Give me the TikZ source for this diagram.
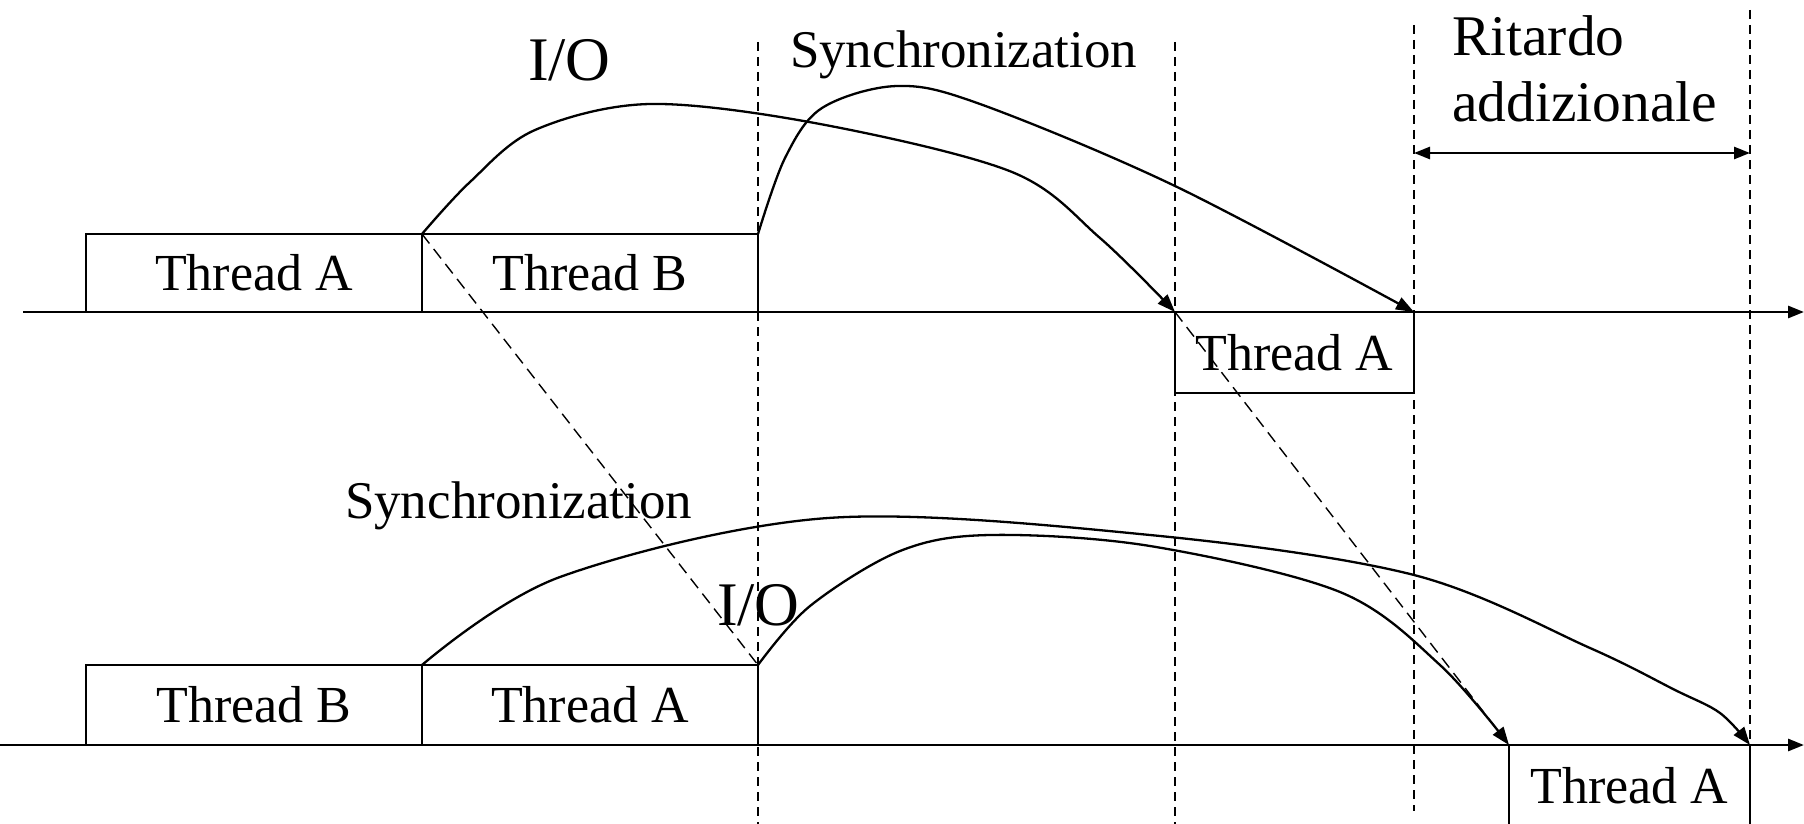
\documentclass[tikz,border=0pt]{standalone}
\usepackage{fontspec}
\setmainfont{Liberation Serif}
\usetikzlibrary{arrows.meta}
\begin{document}
\begin{tikzpicture}[x=1pt,y=-1pt,
  box/.style={draw, line width=1.7pt, minimum height=78pt, inner sep=0pt, outer sep=0pt, anchor=north west, font=\fontsize{52}{60}\selectfont},
  lbl/.style={anchor=base west, inner sep=0pt, outer sep=0pt},
  axisline/.style={line width=2.8pt, -{Triangle[length=16pt,width=12pt]}},
  guide/.style={line width=1.4pt, dash pattern=on 9pt off 6pt},
  diag/.style={line width=1.4pt, dash pattern=on 12pt off 7pt},
  flow/.style={line width=2.3pt, -{Triangle[length=18pt,width=13pt]}},
  span/.style={line width=2.6pt, {Triangle[length=16pt,width=12pt]}-{Triangle[length=16pt,width=12pt]}}]
\useasboundingbox (0,0) rectangle (1804,824);

% guide lines
\coordinate (g1t) at (758,42);   \coordinate (g1b) at (758,824);
\coordinate (g2t) at (1175,42);  \coordinate (g2b) at (1175,824);
\coordinate (g3t) at (1414,25);  \coordinate (g3b) at (1414,811);
\coordinate (g4t) at (1750,10);  \coordinate (g4b) at (1750,824);
\draw[guide] (g1t) -- (g1b);
\draw[guide] (g2t) -- (g2b);
\draw[guide] (g3t) -- (g3b);
\draw[guide] (g4t) -- (g4b);

% top row boxes
\node[box, minimum width=336pt] (tA1) at (86,234) {Thread A};
\node[box, minimum width=336pt] (tB1) at (422,234) {Thread B};
\node[box, minimum width=239pt, minimum height=81pt] (tA2) at (1175,312) {Thread A};

% bottom row boxes
\node[box, minimum width=336pt, minimum height=80pt] (bB) at (86,665) {Thread B};
\node[box, minimum width=336pt, minimum height=80pt] (bA) at (422,665) {Thread A};
\node[box, minimum width=241pt, minimum height=82pt] (bA2) at (1509,745) {Thread A};

% axes
\coordinate (ax1s) at (23,312);  \coordinate (ax1e) at (1804,312);
\coordinate (ax2s) at (0,745);   \coordinate (ax2e) at (1804,745);
\draw[axisline] (ax1s) -- (ax1e);
\draw[axisline] (ax2s) -- (ax2e);

% dashed diagonals
\draw[diag] (tA1.north east) -- (bA.north east);
\draw[diag] (tA2.north west) -- (bA2.north west);

% curves top
\draw[flow] plot[smooth, tension=0.55] coordinates {(tA1.north east) (470,182) (535,130) (650,104) (820,124) (1012,172) (1100,238) (tA2.north west)};
\draw[flow] plot[smooth, tension=0.55] coordinates {(tB1.north east) (785,158) (822,108) (897,86) (980,104) (1175,186) (tA2.north east)};

% curves bottom
\draw[flow] plot[smooth, tension=0.55] coordinates {(bB.north east) (560,577) (828,518) (1150,535) (1414,575) (1590,648) (1675,690) (1720,713) (bA2.north east)};
\draw[flow] plot[smooth, tension=0.55] coordinates {(bA.north east) (810,606) (900,551) (990,535) (1150,546) (1340,592) (1440,665) (bA2.north west)};

% span arrow
\coordinate (s1) at (1414,153); \coordinate (s2) at (1750,153);
\draw[span] (s1) -- (s2);

% labels
\node[lbl, font=\fontsize{62}{70}\selectfont] (io1) at (528,81) {I/O};
\node[lbl, font=\fontsize{53}{60}\selectfont] (sy1) at (790,68) {Synchronization};
\node[lbl, font=\fontsize{57.5}{66}\selectfont] (rit) at (1452,56) {Ritardo};
\node[lbl, font=\fontsize{57.5}{66}\selectfont] (add) at (1452,122) {addizionale};
\node[lbl, font=\fontsize{53}{60}\selectfont] (sy2) at (345,518) {Synchronization};
\node[lbl, font=\fontsize{62}{70}\selectfont] (io2) at (717,625) {I/O};
\end{tikzpicture}
\end{document}
